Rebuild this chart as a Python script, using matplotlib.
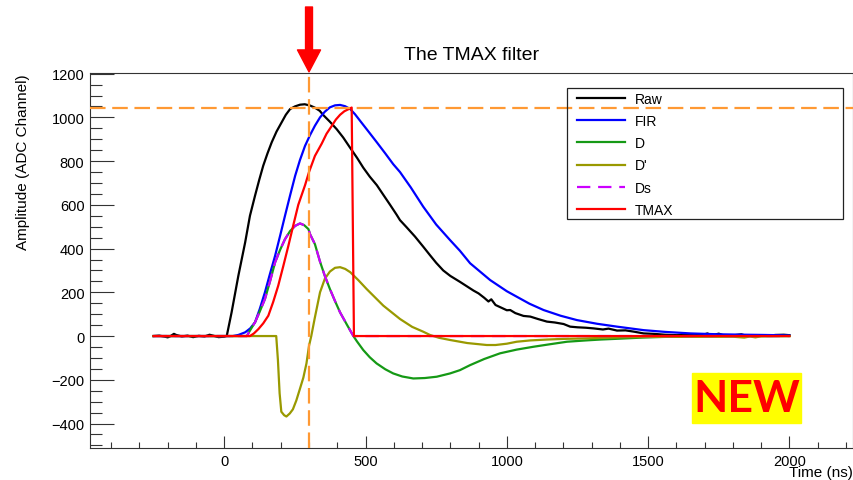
import matplotlib
matplotlib.use("Agg")
import matplotlib.pyplot as plt
from matplotlib.ticker import MultipleLocator
from matplotlib.patches import Rectangle

plt.rcParams['font.family'] = ['Liberation Sans', 'DejaVu Sans']

# ---------------- data ----------------
raw_t = [-250, -230, -210, -200, -190, -178, -170, -150, -130, -110, -90, -70, -52, -40, -20, 0, 9,
         26, 50, 74, 91, 109, 124, 138, 153, 168, 185, 203, 218, 233, 250, 268, 285, 304, 320,
         338, 351, 374, 398, 421, 445, 470, 492, 515, 540, 565, 587, 610, 622, 645, 675, 704, 728, 750,
         775, 800, 834, 870, 882, 900, 920, 935, 945, 960, 980, 1000, 1012, 1030, 1059, 1083, 1110,
         1142, 1170, 1201, 1224, 1250, 1280, 1307, 1340, 1360, 1390, 1420, 1450, 1484, 1520, 1560,
         1600, 1650, 1690, 1710, 1725, 1750, 1765, 1800, 1830, 1845, 1880, 1930, 1950, 1980, 2000]
raw_v = [0, 2, -3, -6, 0, 10, 5, -2, 2, -5, 1, -2, 6, 2, -5, -3, 1,
         108, 276, 428, 550, 642, 715, 779, 835, 886, 935, 977, 1012, 1038, 1050, 1058, 1060, 1054, 1045,
         1030, 1010, 980, 946, 908, 862, 815, 770, 729, 690, 642, 600, 555, 530, 498, 455, 409, 370, 335,
         300, 275, 248, 218, 208, 195, 175, 158, 168, 142, 130, 118, 119, 105, 92, 89, 78,
         66, 62, 55, 43, 40, 38, 35, 30, 34, 25, 26, 20, 12, 10, 6,
         4, 5, 4, 12, 3, 11, 4, 3, 8, 2, 3, 2, 5, 6, 4]

fir_t = [-250, 30, 50, 74, 92, 109, 126, 144, 162, 180, 198, 215, 233, 251, 268, 286, 304, 321, 339,
         356, 374, 392, 410, 428, 446, 463, 481, 510, 540, 570, 598, 622, 660, 704, 750, 799, 834, 870,
         941, 1000, 1035, 1080, 1130, 1190, 1248, 1320, 1390, 1484, 1560, 1650, 1750, 1850, 1910, 2000]
fir_v = [0, 0, 5, 17, 35, 63, 125, 200, 285, 367, 460, 550, 643, 733, 805, 870, 920, 962, 1000,
         1026, 1046, 1055, 1057, 1051, 1038, 1014, 984, 936, 886, 835, 786, 750, 680, 592, 510, 439, 390, 333,
         256, 205, 180, 148, 119, 93, 73, 56, 43, 27, 19, 12, 8, 6, 5, 3]

d_t = [-250, 80, 91, 109, 125, 144, 162, 180, 198, 215, 233, 251, 268, 283, 298, 304, 321, 339, 356,
       374, 392, 410, 435, 457, 470, 492, 515, 539, 570, 598, 630, 669, 710, 752, 799, 834, 870, 920, 976,
       1035, 1094, 1150, 1213, 1280, 1331, 1400, 1480, 1555, 1650, 1800, 2000]
d_v = [0, 0, 25, 63, 110, 169, 250, 337, 395, 443, 480, 504, 515, 507, 489, 465, 420, 340, 275,
       215, 160, 108, 50, 0, -25, -64, -97, -125, -152, -171, -185, -194, -192, -186, -171, -156, -133, -105, -79,
       -62, -49, -38, -26, -20, -16, -12, -7, -4, -2, -1, 0]

dp_t = [-250, 184, 190, 196, 202, 212, 220, 232, 243, 255, 267, 280, 291, 300, 308, 320, 339, 356, 374,
        392, 410, 428, 446, 475, 504, 563, 622, 665, 704, 728, 760, 799, 860, 929, 960, 1000, 1035, 1083,
        1142, 1200, 1272, 1402, 1500, 1700, 1800, 1840, 1860, 1880, 1900, 2000]
dp_v = [0, 0, -110, -262, -346, -362, -368, -354, -335, -295, -245, -190, -125, -45, 0, 80, 200, 262, 295,
        312, 315, 307, 292, 255, 215, 139, 78, 42, 20, 5, -8, -18, -32, -41, -41, -35, -26, -20,
        -16, -13, -11, -6, -4, -3, -3, -7, -2, -6, -1, 0]

ds_t = [-250, 80, 91, 109, 125, 144, 162, 180, 198, 215, 233, 251, 268, 283, 298, 304, 321, 339, 356,
        374, 392, 410, 435, 457, 2000]
ds_v = [0, 0, 25, 63, 110, 169, 250, 337, 395, 443, 480, 504, 515, 507, 489, 465, 420, 340, 275,
        215, 160, 108, 50, 0, 0]

tmax_t = [-250, 91, 105, 121, 138, 156, 173, 191, 209, 227, 245, 262, 286, 300, 321, 345, 362, 380,
          395, 410, 425, 439, 451, 459, 2000]
tmax_v = [0, 0, 12, 32, 58, 93, 155, 230, 320, 413, 510, 600, 690, 750, 824, 880, 925, 960,
          990, 1012, 1028, 1037, 1045, 0, 0]

t_max = 300      # vertical marker (ns)
amp_max = 1045   # horizontal marker (ADC)

series = [("Raw", raw_t, raw_v, "black", "-"),
          ("FIR", fir_t, fir_v, "#0000ff", "-"),
          ("D", d_t, d_v, "#159915", "-"),
          ("D'", dp_t, dp_v, "#999900", "-"),
          ("Ds", ds_t, ds_v, "#cc00ff", (0, (6, 3.5))),
          ("TMAX", tmax_t, tmax_v, "#ff0000", "-")]

# ---------------- figure ----------------
W, H = 854, 481
fig = plt.figure(figsize=(W / 100, H / 100), dpi=100)
ax_l, ax_r, ax_t, ax_b = 90, 853, 74, 449
ax = fig.add_axes([ax_l / W, 1 - ax_b / H, (ax_r - ax_l) / W, (ax_b - ax_t) / H])

handles = []
for name, t, v, c, ls in series:
    h, = ax.plot(t, v, color=c, lw=1.6, ls=ls, label=name)
    handles.append(h)

orange = "#ff9933"
ax.axvline(t_max, color=orange, lw=1.6, ls=(0, (7, 3)), zorder=5)
ax.axhline(amp_max, color=orange, lw=1.6, ls=(0, (7, 3)), zorder=5)

ax.set_xlim(-475, 2225)
ax.set_ylim(-512, 1203)

ax.xaxis.set_major_locator(MultipleLocator(500))
ax.xaxis.set_minor_locator(MultipleLocator(100))
ax.yaxis.set_major_locator(MultipleLocator(200))
ax.yaxis.set_minor_locator(MultipleLocator(50))
ax.tick_params(axis='both', which='both', direction='in', top=False, right=False,
               labelsize=10.5, width=0.8, color='#333333')
ax.tick_params(axis='x', which='major', length=8.6, pad=4)
ax.tick_params(axis='x', which='minor', length=4.3)
ax.tick_params(axis='y', which='major', length=17.3, pad=4)
ax.tick_params(axis='y', which='minor', length=8.6)
for s in ax.spines.values():
    s.set_linewidth(0.8)
    s.set_color('#333333')

ax.set_title("The TMAX filter", fontsize=14, pad=10)
ax.set_ylabel("Amplitude (ADC Channel)", loc='top', fontsize=11)
ax.yaxis.set_label_coords(-0.0786, 1.0)
ax.set_xlabel("Time (ns)", loc='right', fontsize=11)
ax.xaxis.set_label_coords(1.0, -0.045)

# legend
leg = ax.legend(handles=handles, loc='upper left', frameon=False, fontsize=10,
                bbox_to_anchor=((576.7 - ax_l) / (ax_r - ax_l), (ax_b - 92.5) / (ax_b - ax_t)),
                borderpad=0, borderaxespad=0, handlelength=3.45, handletextpad=0.75,
                labelspacing=0.6)
ax.add_patch(Rectangle(((566.7 - ax_l) / (ax_r - ax_l), (ax_b - 220) / (ax_b - ax_t)),
                       (843 - 566.7) / (ax_r - ax_l), (220 - 88.7) / (ax_b - ax_t),
                       transform=ax.transAxes, fill=False, ec='#222222', lw=0.9, zorder=6))

# red arrow pointing at the maximum time
ax.annotate("", xy=(t_max, 1.003), xycoords=('data', 'axes fraction'),
            xytext=(t_max, (ax_b - 8) / (ax_b - ax_t)), textcoords=('data', 'axes fraction'),
            arrowprops=dict(width=5, headwidth=16.6, headlength=15.8, color='red', shrink=0),
            annotation_clip=False)

# NEW label
fig.patches.append(Rectangle((692 / W, 1 - 424 / H), 109 / W, 50 / H,
                             transform=fig.transFigure, color='#ffff00', zorder=10))
fig.text(746.5 / W, 1 - 399 / H, "NEW", color='red', fontsize=32, fontweight='bold',
         family=['Lato', 'DejaVu Sans'], ha='center', va='center', zorder=11)

fig.savefig("out.png", dpi=100)
